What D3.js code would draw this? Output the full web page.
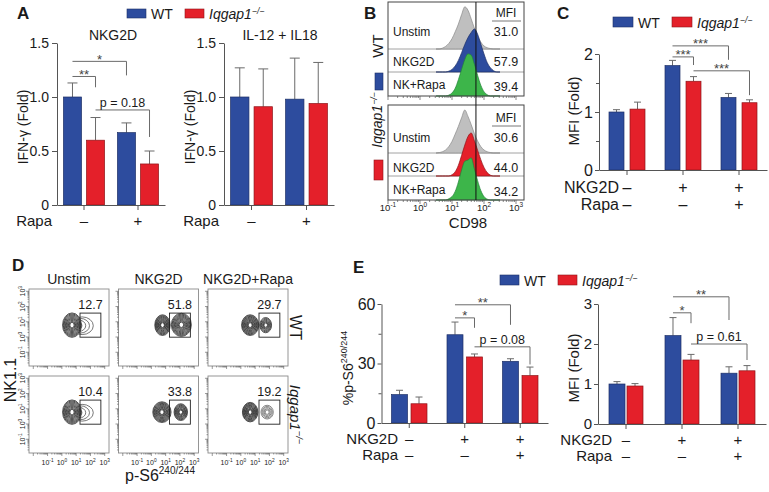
<!DOCTYPE html>
<html>
<head>
<meta charset="utf-8">
<script src="https://cdn.jsdelivr.net/npm/d3@7"></script>
<style>
  body { margin: 0; background: #fff; }
  svg { font-family: "Liberation Sans", Arial, sans-serif; }
</style>
</head>
<body>
<svg id="fig" width="769" height="492"></svg>
<script>
/* Iqgap1 NK cell figure: IFN-g (A), CD98 histograms (B), CD98 MFI (C), p-S6 contours (D), p-S6 bars (E) */

// ---------- data ----------
const genotypes = ["WT", "Iqgap1"];

// A: IFN-gamma (fold), bar order WT-, KO-, WT+, KO+
const rapaGroups = ["–", "+"];
const ifnNkg2dMean = [1.0, 0.6, 0.67, 0.38];
const ifnNkg2dErr = [0.13, 0.21, 0.09, 0.12];
const ifnIl12Mean = [1.0, 0.91, 0.98, 0.94];
const ifnIl12Err = [0.27, 0.35, 0.38, 0.38];
// [barA, barB, bracket value, drop-to value, label]
const ifnNkg2dSig = [[0, 1, 1.19, 1.09, "**"], [0, 2, 1.33, 1.2, "*"], [1, 3, 0.88, 0.63, "p = 0.18"]];

// B: CD98 histograms, bins in log10 units, normalised counts
const cd98Bins = [0.5, 0.6, 0.7, 0.8, 0.9, 1.0, 1.1, 1.2, 1.3, 1.4, 1.5, 1.6, 1.7, 1.8, 1.9, 2.0, 2.1, 2.2, 2.3, 2.4, 2.5];
const cd98WtUnstim = [0, 0, 0.02, 0.06, 0.13, 0.24, 0.4, 0.58, 0.8, 0.98, 0.9, 0.7, 0.48, 0.3, 0.16, 0.07, 0.03, 0.01, 0, 0, 0];
const cd98WtNkg2d = [0, 0, 0, 0, 0.02, 0.06, 0.14, 0.27, 0.45, 0.64, 0.8, 0.92, 1.0, 0.88, 0.65, 0.42, 0.22, 0.1, 0.03, 0, 0];
const cd98WtRapa = [0, 0, 0, 0, 0.02, 0.07, 0.18, 0.38, 0.62, 0.85, 0.98, 0.95, 0.74, 0.48, 0.25, 0.1, 0.03, 0, 0, 0, 0];
const cd98KoUnstim = [0, 0.01, 0.03, 0.07, 0.15, 0.27, 0.44, 0.62, 0.82, 1.0, 0.85, 0.66, 0.45, 0.28, 0.15, 0.07, 0.03, 0.01, 0, 0, 0];
const cd98KoNkg2d = [0, 0, 0, 0, 0, 0.03, 0.1, 0.25, 0.48, 0.72, 0.92, 1.0, 0.82, 0.6, 0.38, 0.2, 0.08, 0.02, 0, 0, 0];
const cd98KoRapa = [0, 0, 0, 0, 0.03, 0.08, 0.2, 0.42, 0.7, 0.9, 0.93, 0.98, 0.72, 0.45, 0.22, 0.08, 0.02, 0, 0, 0, 0];
const cd98Rows = ["Unstim", "NKG2D", "NK+Rapa"];
const cd98Mfi = [["31.0", "57.9", "39.4"], ["30.6", "44.0", "34.2"]];
const cd98Marker = 56;
const cd98Decades = [-1, 0, 1, 2, 3];

// C: CD98 MFI (fold), bar order WT/KO per condition
const condGroups = ["Unstim", "NKG2D", "NKG2D+Rapa"];
const nkg2dSigns = ["–", "+", "+"];
const rapaSigns = ["–", "–", "+"];
const cd98FoldMean = [1.0, 1.05, 1.8, 1.53, 1.25, 1.16];
const cd98FoldErr = [0.04, 0.12, 0.09, 0.08, 0.07, 0.05];
const cd98FoldSig = [[2, 3, 1.95, 1.81, "***"], [2, 4, 2.14, 1.9, "***"], [3, 5, 1.71, 1.29, "***"]];

// D: p-S6 contour plots, row-major (WT row, then Iqgap1 row)
const dRows = ["WT", "Iqgap1"];
const dPct = ["12.7", "51.8", "29.7", "10.4", "33.8", "19.2"];
// populations as [x log10, y log10, rx log10, ry log10]
const dNegPop = [[0.71, 0.78, 0.66, 0.8], [0.78, 0.78, 0.54, 0.68], [0.65, 0.78, 0.6, 0.68],
                 [0.71, 0.78, 0.66, 0.8], [0.74, 0.78, 0.64, 0.68], [0.65, 0.78, 0.54, 0.64]];
const dPosPop = [[1.42, 0.74, 0.78, 0.58], [2.1, 0.8, 0.7, 0.76], [1.74, 0.78, 0.41, 0.5],
                 [1.42, 0.74, 0.78, 0.55], [2.06, 0.78, 0.47, 0.55], [1.84, 0.78, 0.43, 0.45]];
const dPosKind = ["tail", "blob", "blob", "tail", "blob", "blob"];
const dPosRings = [5, 11, 7, 5, 9, 5];
const dGate = [1.27, 2.73, -0.01, 1.57]; // x0, x1, y0, y1 in log10
const dDecades = [-1, 0, 1, 2, 3];

// E: p-S6 percent and MFI fold
const ps6PctMean = [14.3, 9.7, 44.5, 33.3, 31.1, 23.9];
const ps6PctErr = [2.2, 3.4, 6.4, 1.5, 1.3, 4.3];
const ps6PctSig = [[2, 3, 53, 48, "*"], [2, 4, 59.6, 49.5, "**"], [3, 5, 38.4, 29.5, "p = 0.08"]];
const ps6MfiMean = [1.0, 0.95, 2.21, 1.6, 1.27, 1.33];
const ps6MfiErr = [0.06, 0.06, 0.45, 0.14, 0.16, 0.13];
const ps6MfiSig = [[2, 3, 2.78, 2.52, "*"], [2, 4, 3.18, 2.6, "**"], [3, 5, 2.0, 1.6, "p = 0.61"]];

// ---------- helpers ----------
const svg = d3.select("#fig");
const BLUE = "#2d4c9e", RED = "#e4202a", GREEN = "#3db54a", INK = "#1a1a1a";

function addKo(sel, fs) {
  sel.append("tspan").attr("font-style", "italic").text("Iqgap1");
  sel.append("tspan").attr("font-style", "italic").attr("font-size", fs * 0.62).attr("dy", -fs * 0.38).text("−/−");
}
function addPow(sel, exp, fs) {
  sel.append("tspan").text("10");
  sel.append("tspan").attr("font-size", fs * 0.68).attr("dy", -fs * 0.4).text(exp);
}
function letter(t, x, y) {
  svg.append("text").attr("x", x).attr("y", y).attr("font-size", 17).attr("font-weight", "bold").attr("fill", INK).text(t);
}
function legend(xWt, xKo, y, w, h, fs) {
  svg.append("rect").attr("x", xWt).attr("y", y).attr("width", w).attr("height", h)
    .attr("fill", BLUE).attr("stroke", "#1d2f66").attr("stroke-width", 0.6);
  svg.append("text").attr("x", xWt + w + 5).attr("y", y + h + 1).attr("font-size", fs).attr("fill", INK).text("WT");
  svg.append("rect").attr("x", xKo).attr("y", y).attr("width", w).attr("height", h)
    .attr("fill", RED).attr("stroke", "#8e1418").attr("stroke-width", 0.6);
  svg.append("text").attr("x", xKo + w + 5).attr("y", y + h + 1).attr("font-size", fs).attr("fill", INK).call(addKo, fs);
}
function yLabel(x, y, fs, txt) {
  return svg.append("text").attr("transform", `translate(${x},${y}) rotate(-90)`)
    .attr("text-anchor", "middle").attr("font-size", fs).attr("fill", INK).text(txt);
}

function barPanel(c) {
  const g = svg.append("g");
  const x0 = d3.scaleBand().domain(c.groups).range(c.xr);
  const x1 = d3.scaleBand().domain(genotypes).range([0, x0.bandwidth()])
    .paddingInner(c.pin).paddingOuter(c.pout);
  const y = d3.scaleLinear().domain(c.yd).range(c.yr);
  const bars = c.mean.map((m, i) => ({ grp: c.groups[Math.floor(i / 2)], gen: genotypes[i % 2], m, e: c.err[i] }));
  const cx = d => x0(d.grp) + x1(d.gen) + x1.bandwidth() / 2;

  const eb = g.append("g").attr("stroke", "#6a6a6a").attr("stroke-width", 1)
    .selectAll("g").data(bars).join("g");
  eb.append("line").attr("x1", cx).attr("x2", cx).attr("y1", d => y(d.m)).attr("y2", d => y(d.m + d.e));
  eb.append("line").attr("x1", d => cx(d) - c.cap / 2).attr("x2", d => cx(d) + c.cap / 2)
    .attr("y1", d => y(d.m + d.e)).attr("y2", d => y(d.m + d.e));

  g.append("g").selectAll("rect").data(bars).join("rect")
    .attr("x", d => x0(d.grp) + x1(d.gen)).attr("width", x1.bandwidth())
    .attr("y", d => y(d.m)).attr("height", d => y(0) - y(d.m))
    .attr("fill", d => d.gen === "WT" ? BLUE : RED)
    .attr("stroke", d => d.gen === "WT" ? "#1d2f66" : "#8e1418").attr("stroke-width", 0.7);

  const ya = g.append("g").attr("transform", `translate(${c.xr[0]},0)`)
    .call(d3.axisLeft(y).tickValues(c.ticks).tickFormat(c.fmt).tickSize(c.tk).tickSizeOuter(0).tickPadding(c.pad));
  ya.attr("font-size", c.fs).attr("font-family", null).attr("color", "#555");
  ya.selectAll("text").attr("fill", INK);
  if (c.minor) {
    g.append("g").attr("transform", `translate(${c.xr[0]},0)`).attr("color", "#555")
      .call(d3.axisLeft(y).tickValues(c.minor).tickSize(3).tickFormat(""))
      .call(a => a.select(".domain").remove());
  }
  g.append("g").attr("transform", `translate(0,${c.yr[0]})`).attr("color", "#555")
    .call(d3.axisBottom(x0).tickSize(5).tickSizeOuter(0).tickFormat(""));

  c.sig.forEach(([a, b, top, end, lab]) => {
    const xa = cx(bars[a]), xb = cx(bars[b]);
    g.append("path").attr("d", `M${xa},${y(top)}H${xb}V${y(end)}`)
      .attr("fill", "none").attr("stroke", "#6a6a6a").attr("stroke-width", 1);
    const isP = lab.startsWith("p");
    g.append("text").attr("x", (xa + xb) / 2).attr("y", isP ? y(top) - 3 : y(top) + 2.5)
      .attr("text-anchor", "middle").attr("font-size", isP ? 12.5 : 13).attr("fill", isP ? INK : "#444").text(lab);
  });

  c.rows.forEach(([name, signs], r) => {
    g.append("text").attr("x", c.rowX).attr("y", c.rowY[r]).attr("text-anchor", "end")
      .attr("font-size", c.rowFs).attr("fill", INK).text(name);
    g.append("g").selectAll("text").data(signs).join("text")
      .attr("x", (d, i) => x0(c.groups[i]) + x0.bandwidth() / 2).attr("y", c.rowY[r])
      .attr("text-anchor", "middle").attr("font-size", c.rowFs).attr("fill", INK).text(d => d);
  });
}

const fmt1 = d => d === 0 ? "0" : d3.format(".1f")(d);

// ---------- A ----------
letter("A", 17, 19);
legend(127, 185, 9, 19, 9, 14);
svg.append("text").attr("x", 113).attr("y", 40).attr("text-anchor", "middle").attr("font-size", 14).attr("fill", INK).text("NKG2D");
svg.append("text").attr("x", 280).attr("y", 40).attr("text-anchor", "middle").attr("font-size", 14).attr("fill", INK).text("IL-12 + IL18");
barPanel({ groups: rapaGroups, xr: [57, 165], yr: [205, 43], yd: [0, 1.5], ticks: [0, 0.5, 1, 1.5], fmt: fmt1, fs: 14, tk: 5, pad: 3,
  mean: ifnNkg2dMean, err: ifnNkg2dErr, pin: 0.217, pout: 0.28, cap: 10, sig: ifnNkg2dSig,
  rows: [["Rapa", rapaGroups]], rowX: 52, rowY: [226], rowFs: 15 });
barPanel({ groups: rapaGroups, xr: [224, 334], yr: [205, 43], yd: [0, 1.5], ticks: [0, 0.5, 1, 1.5], fmt: fmt1, fs: 14, tk: 5, pad: 3,
  mean: ifnIl12Mean, err: ifnIl12Err, pin: 0.217, pout: 0.28, cap: 10, sig: [],
  rows: [["Rapa", rapaGroups]], rowX: 219, rowY: [226], rowFs: 15 });
yLabel(28, 127, 14, "IFN-γ (Fold)");
yLabel(195, 127, 14, "IFN-γ (Fold)");

// ---------- B ----------
letter("B", 364, 19);
const cdX = d3.scaleLinear().domain([-1, 3]).range([388, 516]);
const cdH = d3.scaleLinear().domain([0, 1]).range([0, 43]);
const cdBoxes = [
  { top: 2, bottom: 96, base: [49, 72, 96], textY: [36, 66, 89], mfiY: 17,
    hist: [cd98WtUnstim, cd98WtNkg2d, cd98WtRapa], fill: ["#bfbfbf", BLUE, GREEN], line: ["#8a8a8a", "#1d2f66", "#23823a"] },
  { top: 105, bottom: 200, base: [153, 176, 200], textY: [142, 172, 194], mfiY: 122,
    hist: [cd98KoUnstim, cd98KoNkg2d, cd98KoRapa], fill: ["#bfbfbf", RED, GREEN], line: ["#8a8a8a", "#8e1418", "#23823a"] }
];
const cdTicks = d3.scaleLog().domain([0.1, 1000]).ticks();
cdBoxes.forEach((b, bi) => {
  const g = svg.append("g");
  b.base.slice(0, 2).forEach(yy => g.append("line").attr("x1", 388).attr("x2", 524).attr("y1", yy).attr("y2", yy)
    .attr("stroke", "#8a8a8a").attr("stroke-width", 0.8));
  b.hist.forEach((h, r) => {
    const area = d3.area().x((d, i) => cdX(cd98Bins[i])).y0(b.base[r]).y1(d => b.base[r] - cdH(d)).curve(d3.curveMonotoneX);
    g.append("path").datum(h).attr("d", area).attr("fill", b.fill[r]).attr("stroke", b.line[r]).attr("stroke-width", 0.7);
  });
  g.append("rect").attr("x", 388).attr("y", b.top).attr("width", 136).attr("height", b.bottom - b.top)
    .attr("fill", "none").attr("stroke", "#444").attr("stroke-width", 1);
  cd98Rows.forEach((name, r) => {
    g.append("text").attr("x", 393).attr("y", b.textY[r]).attr("font-size", 12).attr("fill", INK).text(name);
    g.append("text").attr("x", 506).attr("y", b.textY[r] + (r === 2 ? 2 : 0)).attr("text-anchor", "middle")
      .attr("font-size", 12.5).attr("fill", INK).text(cd98Mfi[bi][r]);
  });
  g.append("text").attr("x", 506).attr("y", b.mfiY).attr("text-anchor", "middle").attr("font-size", 12).attr("fill", INK).text("MFI");
  g.append("line").attr("x1", 492).attr("x2", 521).attr("y1", b.mfiY + 4).attr("y2", b.mfiY + 4).attr("stroke", "#555").attr("stroke-width", 0.8);
  g.selectAll(".tk").data(cdTicks).join("line")
    .attr("x1", t => cdX(Math.log10(t))).attr("x2", t => cdX(Math.log10(t)))
    .attr("y1", b.bottom).attr("y2", t => b.bottom + (Number.isInteger(Math.round(Math.log10(t) * 1e6) / 1e6) ? 4 : 2))
    .attr("stroke", "#555").attr("stroke-width", 0.7);
});
svg.append("line").attr("x1", cdX(Math.log10(cd98Marker))).attr("x2", cdX(Math.log10(cd98Marker)))
  .attr("y1", 2).attr("y2", 200).attr("stroke", "#111").attr("stroke-width", 1);
cd98Decades.forEach(e => {
  svg.append("text").attr("x", cdX(e)).attr("y", 211).attr("text-anchor", "middle").attr("font-size", 9.5).attr("fill", INK)
    .call(addPow, e === -1 ? "-1" : String(e), 9.5);
});
svg.append("text").attr("x", 468).attr("y", 228).attr("text-anchor", "middle").attr("font-size", 15).attr("fill", INK).text("CD98");
svg.append("text").attr("transform", "translate(383,46) rotate(-90)").attr("text-anchor", "middle")
  .attr("font-size", 15).attr("fill", INK).text("WT");
svg.append("rect").attr("x", 375).attr("y", 73).attr("width", 8).attr("height", 17).attr("fill", BLUE).attr("stroke", "#1d2f66").attr("stroke-width", 0.6);
svg.append("text").attr("transform", "translate(382,120) rotate(-90)").attr("text-anchor", "middle")
  .attr("font-size", 14).attr("fill", INK).call(addKo, 14);
svg.append("rect").attr("x", 374).attr("y", 160).attr("width", 9).attr("height", 20).attr("fill", RED).attr("stroke", "#8e1418").attr("stroke-width", 0.6);

// ---------- C ----------
letter("C", 557, 19);
legend(613, 672, 17, 20, 10, 14);
barPanel({ groups: condGroups, xr: [599, 767], yr: [170, 54], yd: [0, 2], ticks: [0, 1, 2], minor: [0.5, 1.5],
  fmt: d3.format("d"), fs: 16, tk: 4, pad: 2, mean: cd98FoldMean, err: cd98FoldErr, pin: 0.286, pout: 0.476, cap: 7, sig: cd98FoldSig,
  rows: [["NKG2D", nkg2dSigns], ["Rapa", rapaSigns]], rowX: 619, rowY: [193, 210], rowFs: 16 });
yLabel(579, 111, 15, "MFI (Fold)");

// ---------- D ----------
letter("D", 12, 271);
const dColX = d3.scaleBand().domain(condGroups).range([29, 288]).paddingInner(0.106);
const dRowY = d3.scaleBand().domain(dRows).range([289, 453]).paddingInner(0.115);
const dx = d3.scaleLinear().domain([-2.3, 3.3]).range([0, dColX.bandwidth()]);
const dy = d3.scaleLinear().domain([-1.9, 3.15]).range([dRowY.bandwidth(), 0]);
const dTicks = d3.scaleLog().domain([0.01, 1000]).ticks().filter(t => Math.log10(t) > -1.9);
const dTicksX = d3.scaleLog().domain([0.01, 1000]).ticks().filter(t => Math.log10(t) > -2.3);
const isDecade = t => Number.isInteger(Math.round(Math.log10(t) * 1e6) / 1e6);

function rings(g, p, n, anchorLeft, stroke) {
  const cx = dx(p[0]), cy = dy(p[1]);
  const rx = dx(p[2]) - dx(0), ry = dy(0) - dy(p[3]);
  for (let i = 0; i < n; i++) {
    const k = 1 - (i / n) * 0.85;
    g.append("ellipse").attr("cx", anchorLeft ? cx - rx + rx * k : cx).attr("cy", cy)
      .attr("rx", rx * k).attr("ry", ry * k)
      .attr("fill", i === 0 ? "#fff" : "none").attr("stroke", stroke).attr("stroke-width", 0.8);
  }
  if (!anchorLeft) g.append("ellipse").attr("cx", cx).attr("cy", cy).attr("rx", 1.1).attr("ry", 1.1).attr("fill", "#fff");
}

dRows.forEach((row, ri) => condGroups.forEach((col, ci) => {
  const i = ri * 3 + ci;
  const w = dColX.bandwidth(), h = dRowY.bandwidth();
  const g = svg.append("g").attr("transform", `translate(${dColX(col)},${dRowY(row)})`);
  g.append("rect").attr("width", w).attr("height", h).attr("fill", "#fff").attr("stroke", "#8a8a8a").attr("stroke-width", 0.9);
  g.selectAll(".ty").data(dTicks).join("line").attr("x1", 0).attr("x2", t => isDecade(t) ? -3 : -1.5)
    .attr("y1", t => dy(Math.log10(t))).attr("y2", t => dy(Math.log10(t))).attr("stroke", "#555").attr("stroke-width", 0.6);
  g.selectAll(".tx").data(dTicksX).join("line").attr("y1", h).attr("y2", t => h + (isDecade(t) ? 3 : 1.5))
    .attr("x1", t => dx(Math.log10(t))).attr("x2", t => dx(Math.log10(t))).attr("stroke", "#555").attr("stroke-width", 0.6);
  if (dPosKind[i] === "tail") {
    rings(g, dPosPop[i], dPosRings[i], true, "#555");
    rings(g, dNegPop[i], 11, false, "#2a2a2a");
  } else {
    rings(g, dPosPop[i], dPosRings[i], false, i === 5 ? "#666" : "#2a2a2a");
    rings(g, dNegPop[i], 11, false, "#2a2a2a");
  }
  g.append("rect").attr("x", dx(dGate[0])).attr("y", dy(dGate[3]))
    .attr("width", dx(dGate[1]) - dx(dGate[0])).attr("height", dy(dGate[2]) - dy(dGate[3]))
    .attr("fill", "none").attr("stroke", "#222").attr("stroke-width", 0.9);
  g.append("text").attr("x", (dx(dGate[0]) + dx(dGate[1])) / 2).attr("y", dy(dGate[3]) - 4)
    .attr("text-anchor", "middle").attr("font-size", 12.5).attr("fill", INK).text(dPct[i]);
  if (ri === 1) {
    dDecades.forEach(e => g.append("text").attr("x", dx(e)).attr("y", h + 12).attr("text-anchor", "middle")
      .attr("font-size", 7).attr("fill", INK).call(addPow, String(e), 7));
  }
  if (ci === 0) {
    dDecades.forEach(e => g.append("text").attr("transform", `translate(-4,${dy(e)}) rotate(-90)`).attr("text-anchor", "middle")
      .attr("font-size", 7).attr("fill", INK).call(addPow, String(e), 7));
  }
  if (ri === 0) {
    svg.append("text").attr("x", dColX(col) + w / 2).attr("y", 284).attr("text-anchor", "middle")
      .attr("font-size", 14).attr("fill", INK).text(col);
  }
}));
yLabel(16, 380, 16, "NK1.1");
svg.append("text").attr("x", 160).attr("y", 481).attr("text-anchor", "middle").attr("font-size", 16).attr("fill", INK)
  .call(s => { s.append("tspan").text("p-S6"); s.append("tspan").attr("font-size", 10).attr("dy", -7).text("240/244"); });
svg.append("text").attr("transform", `translate(290,${dRowY("WT") + dRowY.bandwidth() / 2}) rotate(90)`)
  .attr("text-anchor", "middle").attr("font-size", 16).attr("fill", INK).text("WT");
svg.append("text").attr("transform", `translate(290,${dRowY("Iqgap1") + dRowY.bandwidth() / 2}) rotate(90)`)
  .attr("text-anchor", "middle").attr("font-size", 15).attr("fill", INK).call(addKo, 15);

// ---------- E ----------
letter("E", 353, 273);
legend(500, 558, 275, 19, 10, 14);
barPanel({ groups: condGroups, xr: [381.5, 548], yr: [423, 304], yd: [0, 60], ticks: [0, 30, 60], minor: [15, 45],
  fmt: d3.format("d"), fs: 16, tk: 4, pad: 2, mean: ps6PctMean, err: ps6PctErr, pin: 0.18, pout: 0.513, cap: 7, sig: ps6PctSig,
  rows: [["NKG2D", nkg2dSigns], ["Rapa", rapaSigns]], rowX: 398, rowY: [444, 460], rowFs: 15 });
svg.append("text").attr("transform", "translate(353,368) rotate(-90)").attr("text-anchor", "middle").attr("font-size", 14).attr("fill", INK)
  .call(s => { s.append("tspan").text("%p-S6"); s.append("tspan").attr("font-size", 9).attr("dy", -6).text("240/244"); });
barPanel({ groups: condGroups, xr: [598, 766], yr: [424, 304], yd: [0, 3], ticks: [0, 1, 2, 3],
  fmt: d3.format("d"), fs: 15, tk: 4, pad: 2, mean: ps6MfiMean, err: ps6MfiErr, pin: 0.111, pout: 0.611, cap: 7, sig: ps6MfiSig,
  rows: [["NKG2D", nkg2dSigns], ["Rapa", rapaSigns]], rowX: 612, rowY: [445, 461], rowFs: 15 });
yLabel(579, 368, 15, "MFI (Fold)");
</script>
</body>
</html>
